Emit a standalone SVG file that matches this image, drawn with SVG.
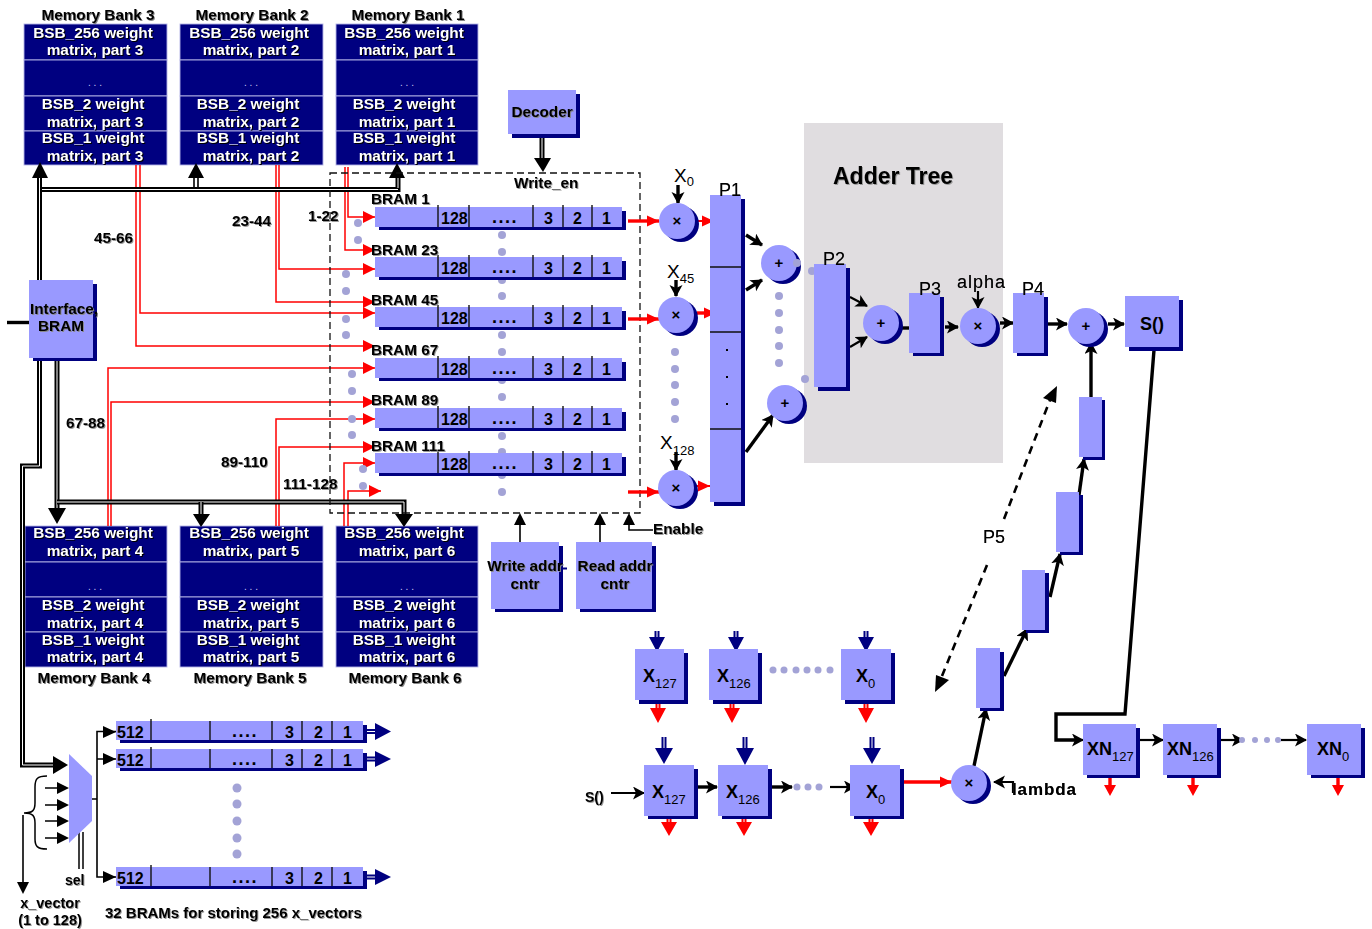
<svg xmlns="http://www.w3.org/2000/svg" width="1372" height="929" viewBox="0 0 1372 929">
<style>
text{font-family:"Liberation Sans",Arial,sans-serif;fill:#000}
.m{font-size:15.300px;font-weight:bold;text-anchor:middle;filter:drop-shadow(1px 1px .5px #888)}
.l{font-size:15.300px;font-weight:bold;filter:drop-shadow(1px 1px .5px #999)}
.w{font-size:15.400px;font-weight:bold;text-anchor:middle;fill:#fff;filter:drop-shadow(1px 1px 0 #000)}
.d{font-size:10px;text-anchor:middle;fill:#c8c8f0}
.n{font-size:16px;font-weight:bold}
.dots{font-size:18px;font-weight:bold;text-anchor:middle;letter-spacing:1.500px}
.p{font-size:18px;filter:drop-shadow(.5px .5px .3px #666)}
.x{font-size:18px;font-weight:bold}
.s{font-size:13px;font-weight:normal}
.o{font-size:15px;font-weight:bold;text-anchor:middle}
.bank{fill:#000080;stroke:#b4b4e6;stroke-width:.9}
.b{fill:#9999ff}
.sh{fill:#000080}
.sep{stroke:#111;stroke-width:1.4;fill:none}
.g{fill:#a3a3d6}
.k{stroke:#000;fill:none;stroke-width:2.2}
.k3{stroke:#000;fill:none;stroke-width:3.4}
.r{stroke:#f00;fill:none;stroke-width:1.5}
.r3{stroke:#f00;fill:none;stroke-width:3.4}
.ko{stroke:#000;fill:none;stroke-width:5}
.ki{stroke:#fff;fill:none;stroke-width:1}
.no{stroke:#000080;fill:none;stroke-width:5}
.ro{stroke:#f00;fill:none;stroke-width:5}
.ae{marker-end:url(#bk)}
.ar{marker-end:url(#rd)}
</style>
<defs>
<marker id="bk" markerUnits="userSpaceOnUse" markerWidth="15" markerHeight="14" refX="11" refY="6.500" orient="auto"><path d="M0,0L12,6.500L0,13L3,6.500z" fill="#000"/></marker>
<marker id="rd" markerUnits="userSpaceOnUse" markerWidth="14" markerHeight="14" refX="12" refY="6" orient="auto"><path d="M0,.5L12,6L0,11.5z" fill="#f00"/></marker>
<marker id="tk" markerUnits="userSpaceOnUse" markerWidth="18" markerHeight="18" refX="0" refY="8" orient="auto"><path d="M0,0L15,8L0,16z" fill="#000"/></marker>
</defs>
<rect width="1372" height="929" fill="#fff"/>
<rect id="adder-tree" x="804" y="123" width="199" height="340" fill="#e0dde0"/>

<g id="bank3"><rect class="bank" x="24" y="24" width="143" height="36"/><rect class="bank" x="24" y="60" width="143" height="36"/><rect class="bank" x="24" y="96" width="143" height="35"/><rect class="bank" x="24" y="131" width="143" height="34"/>
<text class="m" x="98" y="20">Memory Bank 3</text><text class="w" x="93" y="38">BSB_256 weight</text><text class="w" x="95" y="55">matrix, part 3</text><text class="d" x="95" y="86">. . .</text><text class="w" x="93" y="109">BSB_2 weight</text><text class="w" x="95" y="127">matrix, part 3</text><text class="w" x="93" y="143">BSB_1 weight</text><text class="w" x="95" y="161">matrix, part 3</text></g>
<g id="bank2"><rect class="bank" x="180" y="24" width="143" height="36"/><rect class="bank" x="180" y="60" width="143" height="36"/><rect class="bank" x="180" y="96" width="143" height="35"/><rect class="bank" x="180" y="131" width="143" height="34"/>
<text class="m" x="252" y="20">Memory Bank 2</text><text class="w" x="249" y="38">BSB_256 weight</text><text class="w" x="251" y="55">matrix, part 2</text><text class="d" x="251" y="86">. . .</text><text class="w" x="248" y="109">BSB_2 weight</text><text class="w" x="251" y="127">matrix, part 2</text><text class="w" x="248" y="143">BSB_1 weight</text><text class="w" x="251" y="161">matrix, part 2</text></g>
<g id="bank1"><rect class="bank" x="336" y="24" width="142" height="36"/><rect class="bank" x="336" y="60" width="142" height="36"/><rect class="bank" x="336" y="96" width="142" height="35"/><rect class="bank" x="336" y="131" width="142" height="34"/>
<text class="m" x="408" y="20">Memory Bank 1</text><text class="w" x="404" y="38">BSB_256 weight</text><text class="w" x="407" y="55">matrix, part 1</text><text class="d" x="407" y="86">. . .</text><text class="w" x="404" y="109">BSB_2 weight</text><text class="w" x="407" y="127">matrix, part 1</text><text class="w" x="404" y="143">BSB_1 weight</text><text class="w" x="407" y="161">matrix, part 1</text></g>
<g id="bank4"><rect class="bank" x="25" y="526" width="142" height="36"/><rect class="bank" x="25" y="562" width="142" height="35"/><rect class="bank" x="25" y="597" width="142" height="35"/><rect class="bank" x="25" y="632" width="142" height="35"/>
<text class="m" x="94" y="683">Memory Bank 4</text><text class="w" x="93" y="538">BSB_256 weight</text><text class="w" x="95" y="556">matrix, part 4</text><text class="d" x="95" y="590">. . .</text><text class="w" x="93" y="610">BSB_2 weight</text><text class="w" x="95" y="628">matrix, part 4</text><text class="w" x="93" y="645">BSB_1 weight</text><text class="w" x="95" y="662">matrix, part 4</text></g>
<g id="bank5"><rect class="bank" x="180" y="526" width="143" height="36"/><rect class="bank" x="180" y="562" width="143" height="35"/><rect class="bank" x="180" y="597" width="143" height="35"/><rect class="bank" x="180" y="632" width="143" height="35"/>
<text class="m" x="250" y="683">Memory Bank 5</text><text class="w" x="249" y="538">BSB_256 weight</text><text class="w" x="251" y="556">matrix, part 5</text><text class="d" x="251" y="590">. . .</text><text class="w" x="248" y="610">BSB_2 weight</text><text class="w" x="251" y="628">matrix, part 5</text><text class="w" x="248" y="645">BSB_1 weight</text><text class="w" x="251" y="662">matrix, part 5</text></g>
<g id="bank6"><rect class="bank" x="336" y="526" width="142" height="36"/><rect class="bank" x="336" y="562" width="142" height="35"/><rect class="bank" x="336" y="597" width="142" height="35"/><rect class="bank" x="336" y="632" width="142" height="35"/>
<text class="m" x="405" y="683">Memory Bank 6</text><text class="w" x="404" y="538">BSB_256 weight</text><text class="w" x="407" y="556">matrix, part 6</text><text class="d" x="407" y="590">. . .</text><text class="w" x="404" y="610">BSB_2 weight</text><text class="w" x="407" y="628">matrix, part 6</text><text class="w" x="404" y="645">BSB_1 weight</text><text class="w" x="407" y="662">matrix, part 6</text></g>

<g id="connectors">
<path class="r" d="M136,165V346H375M140,165V313H375"/>
<path class="r" d="M276,165V302H375M279,165V269H375"/>
<path class="r" d="M345,167V250H375M348,167V217H375"/>
<path class="r" d="M108,526V368H375M111,526V402H375"/>
<path class="r" d="M276,526V419H375M279,526V447H375"/>
<path class="r" d="M344,526V463H375M348,526V491H381"/>
<g fill="#f00"><path d="M363,211L375,217L363,223zM363,244L375,250L363,256zM363,263L375,269L363,275zM363,296L375,302L363,308zM363,307L375,313L363,319zM363,340L375,346L363,352zM363,362L375,368L363,374zM363,396L375,402L363,408zM363,413L375,419L363,425zM363,441L375,447L363,453zM363,457L375,463L363,469zM369,485L381,491L369,497z"/></g>
<path class="ko" d="M39.500,280V189.500H398V178"/>
<path class="ki" d="M39.500,280V189.500H398"/>
<path class="ko" d="M39.500,280V178"/>
<path class="ki" d="M39.500,280V178"/>
<path d="M40,162L48,178H32zM196,163L204,178H188zM397,163L405,178H389z"/>
<path class="k" style="stroke-width:1.600" d="M194,178V188M198,178V188"/>
<path class="ki" d="M398,188V178"/>
<path class="ko" d="M39.500,358V466H22.500V765H54"/>
<path class="ki" d="M39.500,358V466H22.500V765H54"/>
<path d="M53,756L68,765L53,774z"/>
<path class="ko" d="M57,361V508"/><path class="ki" d="M57,361V508"/>
<path class="ko" d="M57,502H404V514"/><path class="ki" d="M57,502H404V514"/>
<path class="ko" d="M201,502V514"/><path class="ki" d="M201,502V514"/>
<path d="M48,508H66L57,524zM193,514H210L201,527zM395,514H413L404,527z"/>
<path class="k3" d="M7,322.500H32"/>
<path class="sep" stroke-dasharray="7 4" style="stroke-width:1.300" d="M330,173H640V513H330z"/>
<path class="ko" d="M542,138V158"/><path class="ki" d="M542,138V158"/>
<path d="M534,158H551L543,172z"/>
<path class="k" style="stroke-width:1.600" d="M520,542V525M600,542V525M629,525V530H653"/>
<path d="M514,525L520,513L526,525zM594,525L600,513L606,525zM623,525L629,513L635,525z"/>
<path d="M559,568.500H567" stroke="#000080" stroke-width="2" fill="none"/>
<path class="k3 ae" d="M678,185V203"/><path class="k3 ae" d="M676,280V296"/><path class="k3 ae" d="M676,452V470"/>
<path class="r3 ar" d="M628,221H659"/><path class="r3 ar" d="M628,319H659"/><path class="r3 ar" d="M628,492H659"/>
<path class="r3 ar" style="stroke-width:2" d="M697,221H714"/><path class="r3 ar" d="M697,313H716"/><path class="r3 ar" style="stroke-width:2" d="M693,486H710"/>
<path class="k3 ae" d="M746,235L762,245"/><path class="k3 ae" d="M746,290L762,280"/><path class="k3 ae" d="M746,452L773,415"/>
<path class="k ae" d="M850,297L867,306"/><path class="k ae" d="M850,347L867,337"/>
<path class="k3" d="M898,328H909"/><path class="k3 ae" d="M945,327H958"/><path class="k ae" d="M978,291V308"/><path class="k3 ae" d="M1000,323H1013"/><path class="k3 ae" d="M1048,324H1067"/><path class="k3 ae" d="M1108,324H1124"/>
<path class="k3 ae" d="M974,766L986,709"/><path class="k3 ae" d="M1004,676L1027,629"/><path class="k3 ae" d="M1050,597L1060,554"/><path class="k3 ae" d="M1079,495L1084,459"/><path class="k3 ae" d="M1091,400V343"/>
<path class="k" stroke-dasharray="8 6" style="stroke-width:2.600" d="M1004,519L1050,400"/><path d="M1057,386L1056,403L1043,398z"/>
<path class="k" stroke-dasharray="8 6" style="stroke-width:2.600" d="M987,565L942,676"/><path d="M935,692L936,675L949,680z"/>
<path class="k3" d="M1154,350L1125,714H1056V740H1075"/><path class="k ae" d="M1070,740H1083"/>
<path class="k ae" d="M1137,740H1163"/><path class="k ae" d="M1218,740H1243"/><path class="k ae" d="M1281,740H1306"/>
<path class="r3" d="M1110,773V786M1193,773V786M1338,773V786"/><path d="M1104,785H1116L1110,796zM1187,785H1199L1193,796zM1332,785H1344L1338,796z" fill="#f00"/>
<path class="no" d="M657,631V640"/><path class="ki" d="M657,631V640"/><path class="no" d="M736,631V640"/><path class="ki" d="M736,631V640"/><path class="no" d="M866,631V640"/><path class="ki" d="M866,631V640"/>
<path d="M649,637H665L657,652zM728,637H744L736,652zM858,637H874L866,652z" fill="#000080"/>
<path class="ro" d="M658,703V710"/><path class="ki" d="M658,703V710"/><path class="ro" d="M732,703V710"/><path class="ki" d="M732,703V710"/><path class="ro" d="M866,703V710"/><path class="ki" d="M866,703V710"/>
<path d="M650,708H666L658,723zM724,708H740L732,723zM858,708H874L866,723z" fill="#f00"/>
<path class="no" d="M664,737V749"/><path class="ki" d="M664,737V749"/><path class="no" d="M745,737V749"/><path class="ki" d="M745,737V749"/><path class="no" d="M872,737V749"/><path class="ki" d="M872,737V749"/>
<path d="M655,748H673L664,764zM736,748H754L745,765zM863,748H881L872,764z" fill="#000080"/>
<path class="ro" d="M669,815V824"/><path class="ki" d="M669,815V824"/><path class="ro" d="M744,815V824"/><path class="ki" d="M744,815V824"/><path class="ro" d="M871,815V824"/><path class="ki" d="M871,815V824"/>
<path d="M661,822H677L669,836zM736,822H752L744,836zM863,822H879L871,836z" fill="#f00"/>
<path class="k ae" d="M611,793H644"/><path class="k3 ae" d="M693,787H717"/><path class="k3 ae" d="M768,787H792"/><path class="k ae" d="M830,787H855"/>
<path class="r3 ar" d="M900,782H952"/>
<path class="k ae" d="M1013,793V782H994"/>
<path class="k" style="stroke-width:1.600" d="M92,799H97M116,731.500H97V877H116M97,759H116"/>
<path d="M103,726L116,732L103,738zM103,753L116,759L103,765zM103,871L116,877L103,883z"/>
<path class="k" style="stroke-width:1.600" d="M45,788H58M45,805H58M45,821H58M45,838H58"/>
<path d="M57,782L69,788L57,794zM57,799L69,805L57,811zM57,815L69,821L57,827zM57,832L69,838L57,844z"/>
<path class="k" style="stroke-width:1.500" d="M47,776C37,776 35,779 35,787V803C35,810 33,813 24,813C33,813 35,816 35,823V839C35,846 37,849 47,849"/>
<path class="k" style="stroke-width:1.600" d="M23,815V884"/><path d="M17,882H29L23,894z"/>
<path class="k" style="stroke-width:1.500" d="M79,832V869M83,832V869"/>
<path stroke="#000080" stroke-width="5" fill="none" d="M366,731.500H376M366,759H376M366,877H376"/><path class="ki" d="M366,731.500H376M366,759H376M366,877H376"/>
<path d="M375,723L391,731.500L375,740zM375,751L391,759L375,767zM375,869L391,877L375,885z" fill="#000080"/>
</g>

<g id="dots" class="g">
<circle cx="358" cy="223" r="4"/><circle cx="358" cy="240" r="4"/><circle cx="346" cy="274" r="4"/><circle cx="346" cy="291" r="4"/><circle cx="346" cy="319" r="4"/><circle cx="346" cy="335" r="4"/><circle cx="352" cy="374" r="4"/><circle cx="352" cy="391" r="4"/><circle cx="352" cy="419" r="4"/><circle cx="352" cy="435" r="4"/><circle cx="363" cy="469" r="4"/><circle cx="363" cy="486" r="4"/>
<circle cx="502" cy="235" r="4"/><circle cx="502" cy="252" r="4"/><circle cx="502" cy="280" r="4"/><circle cx="502" cy="296" r="4"/><circle cx="502" cy="335" r="4"/><circle cx="502" cy="352" r="4"/><circle cx="502" cy="380" r="4"/><circle cx="502" cy="397" r="4"/><circle cx="502" cy="436" r="4"/><circle cx="502" cy="452" r="4"/><circle cx="502" cy="475" r="4"/><circle cx="502" cy="492" r="4"/>
<circle cx="675" cy="352" r="4"/><circle cx="675" cy="369" r="4"/><circle cx="675" cy="385" r="4"/><circle cx="675" cy="402" r="4"/><circle cx="675" cy="419" r="4"/>
<circle cx="779" cy="296" r="4"/><circle cx="779" cy="313" r="4"/><circle cx="779" cy="330" r="4"/><circle cx="779" cy="346" r="4"/><circle cx="779" cy="363" r="4"/><circle cx="812" cy="271" r="4"/><circle cx="805" cy="379" r="4"/>
<circle cx="773" cy="670" r="3.500"/><circle cx="784" cy="670" r="3.500"/><circle cx="796" cy="670" r="3.500"/><circle cx="807" cy="670" r="3.500"/><circle cx="818" cy="670" r="3.500"/><circle cx="830" cy="670" r="3.500"/>
<circle cx="797" cy="787" r="3.500"/><circle cx="808" cy="787" r="3.500"/><circle cx="819" cy="787" r="3.500"/>
<circle cx="1242" cy="740" r="3"/><circle cx="1255" cy="740" r="3"/><circle cx="1267" cy="740" r="3"/><circle cx="1278" cy="740" r="3"/>
<circle cx="237" cy="788" r="4.500"/><circle cx="237" cy="804" r="4.500"/><circle cx="237" cy="821" r="4.500"/><circle cx="237" cy="838" r="4.500"/><circle cx="237" cy="854" r="4.500"/>
</g>

<g id="interface-bram"><rect class="sh" x="33" y="284" width="64" height="77"/><rect class="b" x="29" y="280" width="64" height="78"/><text class="m" x="64" y="314">Interface,</text><text class="m" x="61" y="331">BRAM</text></g>
<g id="decoder"><rect class="sh" x="512" y="94" width="68" height="44"/><rect class="b" x="508" y="90" width="68" height="44"/><text class="m" x="542" y="117">Decoder</text></g>
<text class="l" x="514" y="188">Write_en</text>
<g id="write-addr"><rect class="sh" x="495" y="546" width="68" height="66"/><rect class="b" x="491" y="542" width="68" height="67"/><text class="m" x="525" y="571">Write addr</text><text class="m" x="525" y="589">cntr</text></g>
<g id="read-addr"><rect class="sh" x="580" y="546" width="76" height="66"/><rect class="b" x="576" y="542" width="76" height="67"/><text class="m" x="615" y="571">Read addr</text><text class="m" x="615" y="589">cntr</text></g>
<text class="l" x="653" y="534">Enable</text>

<g id="bram1"><rect class="sh" x="379" y="211" width="247" height="19"/><rect class="b" x="375" y="207" width="247" height="20"/><path class="sep" d="M438,205V227M469,205V227M533,205V227M563,205V227M592,205V227"/><text class="n" x="441" y="224">128</text><text class="dots" x="505" y="223">....</text><text class="n" x="544" y="224">3</text><text class="n" x="573" y="224">2</text><text class="n" x="602" y="224">1</text><text class="l" x="371" y="204">BRAM 1</text></g>
<g id="bram23"><rect class="sh" x="379" y="261" width="247" height="19"/><rect class="b" x="375" y="257" width="247" height="20"/><path class="sep" d="M438,255V277M469,255V277M533,255V277M563,255V277M592,255V277"/><text class="n" x="441" y="274">128</text><text class="dots" x="505" y="273">....</text><text class="n" x="544" y="274">3</text><text class="n" x="573" y="274">2</text><text class="n" x="602" y="274">1</text><text class="l" x="371" y="255">BRAM 23</text></g>
<g id="bram45"><rect class="sh" x="379" y="311" width="247" height="19"/><rect class="b" x="375" y="307" width="247" height="20"/><path class="sep" d="M438,305V327M469,305V327M533,305V327M563,305V327M592,305V327"/><text class="n" x="441" y="324">128</text><text class="dots" x="505" y="323">....</text><text class="n" x="544" y="324">3</text><text class="n" x="573" y="324">2</text><text class="n" x="602" y="324">1</text><text class="l" x="371" y="305">BRAM 45</text></g>
<g id="bram67"><rect class="sh" x="379" y="362" width="247" height="19"/><rect class="b" x="375" y="358" width="247" height="20"/><path class="sep" d="M438,356V378M469,356V378M533,356V378M563,356V378M592,356V378"/><text class="n" x="441" y="375">128</text><text class="dots" x="505" y="374">....</text><text class="n" x="544" y="375">3</text><text class="n" x="573" y="375">2</text><text class="n" x="602" y="375">1</text><text class="l" x="371" y="355">BRAM 67</text></g>
<g id="bram89"><rect class="sh" x="379" y="412" width="247" height="19"/><rect class="b" x="375" y="408" width="247" height="20"/><path class="sep" d="M438,406V428M469,406V428M533,406V428M563,406V428M592,406V428"/><text class="n" x="441" y="425">128</text><text class="dots" x="505" y="424">....</text><text class="n" x="544" y="425">3</text><text class="n" x="573" y="425">2</text><text class="n" x="602" y="425">1</text><text class="l" x="371" y="405">BRAM 89</text></g>
<g id="bram111"><rect class="sh" x="379" y="457" width="247" height="19"/><rect class="b" x="375" y="453" width="247" height="20"/><path class="sep" d="M438,451V473M469,451V473M533,451V473M563,451V473M592,451V473"/><text class="n" x="441" y="470">128</text><text class="dots" x="505" y="469">....</text><text class="n" x="544" y="470">3</text><text class="n" x="573" y="470">2</text><text class="n" x="602" y="470">1</text><text class="l" x="371" y="451">BRAM 111</text></g>

<g id="range-labels"><text class="l" x="94" y="243">45-66</text><text class="l" x="232" y="226">23-44</text><text class="l" x="308" y="221">1-22</text><text class="l" x="66" y="428">67-88</text><text class="l" x="221" y="467">89-110</text><text class="l" x="283" y="489">111-128</text></g>

<g id="mul-x0"><circle class="sh" cx="681" cy="224" r="18"/><circle class="b" cx="677" cy="221" r="18"/><text class="o" x="677" y="226">×</text><text class="x" x="674" y="182" style="font-size:19px;font-weight:normal">X<tspan class="s" dy="4">0</tspan></text></g>
<g id="mul-x45"><circle class="sh" cx="680" cy="318" r="18"/><circle class="b" cx="676" cy="315" r="18"/><text class="o" x="676" y="320">×</text><text class="x" x="667" y="278" style="font-size:19px;font-weight:normal">X<tspan class="s" dy="5">45</tspan></text></g>
<g id="mul-x128"><circle class="sh" cx="680" cy="491" r="18"/><circle class="b" cx="676" cy="488" r="18"/><text class="o" x="676" y="493">×</text><text class="x" x="660" y="449" style="font-size:19px;font-weight:normal">X<tspan class="s" dy="6">128</tspan></text></g>

<g id="p1"><rect class="sh" x="714" y="199" width="31" height="307"/><rect class="b" x="710" y="195" width="31" height="307"/><path class="sep" d="M710,267H741M710,332H741M710,429H741"/><rect x="726" y="349" width="2" height="2"/><rect x="726" y="376" width="2" height="2"/><rect x="726" y="403" width="2" height="2"/><text class="p" x="719" y="196">P1</text></g>
<text id="adder-title" x="833" y="184" style="font-size:23px;font-weight:bold;filter:drop-shadow(1px 1px .5px #999)">Adder Tree</text>
<g id="add1"><circle class="sh" cx="783" cy="266" r="18"/><circle class="b" cx="779" cy="263" r="18"/><text class="o" x="779" y="268">+</text></g>
<g id="add2"><circle class="sh" cx="789" cy="406" r="18"/><circle class="b" cx="785" cy="403" r="18"/><text class="o" x="785" y="408">+</text></g>
<circle class="g" cx="797" cy="263" r="4"/>
<g id="p2"><rect class="sh" x="818" y="268" width="32" height="123"/><rect class="b" x="814" y="264" width="32" height="123"/><text class="p" x="823" y="265">P2</text></g>
<g id="add3"><circle class="sh" cx="885" cy="326" r="18"/><circle class="b" cx="881" cy="323" r="18"/><text class="o" x="881" y="328">+</text></g>
<g id="p3"><rect class="sh" x="913" y="297" width="31" height="59"/><rect class="b" x="909" y="293" width="31" height="60"/><text class="p" x="919" y="295">P3</text></g>
<g id="mul-alpha"><circle class="sh" cx="982" cy="329" r="18"/><circle class="b" cx="978" cy="326" r="18"/><text class="o" x="978" y="331">×</text><text class="p" x="957" y="288" style="letter-spacing:1px">alpha</text></g>
<g id="p4"><rect class="sh" x="1017" y="297" width="31" height="59"/><rect class="b" x="1013" y="293" width="31" height="60"/><text class="p" x="1022" y="295">P4</text></g>
<g id="add4"><circle class="sh" cx="1090" cy="329" r="18"/><circle class="b" cx="1086" cy="326" r="18"/><text class="o" x="1086" y="331">+</text></g>
<g id="s-box"><rect class="sh" x="1129" y="300" width="54" height="51"/><rect class="b" x="1125" y="296" width="54" height="51"/><text class="x" x="1140" y="330" style="font-size:18px">S()</text></g>

<g id="p5-a"><rect class="sh" x="1083" y="400" width="22" height="60"/><rect class="b" x="1079" y="397" width="23" height="60"/></g>
<g id="p5-b"><rect class="sh" x="1060" y="495" width="23" height="60"/><rect class="b" x="1056" y="492" width="23" height="60"/></g>
<g id="p5-c"><rect class="sh" x="1026" y="573" width="23" height="60"/><rect class="b" x="1022" y="570" width="23" height="60"/></g>
<g id="p5-d"><rect class="sh" x="980" y="652" width="24" height="59"/><rect class="b" x="976" y="648" width="24" height="60"/></g>
<text class="p" x="983" y="543">P5</text>

<g id="xt127"><rect class="sh" x="639" y="653" width="49" height="51"/><rect class="b" x="635" y="649" width="49" height="51"/><text class="x" x="643" y="682">X<tspan class="s" dy="6">127</tspan></text></g>
<g id="xt126"><rect class="sh" x="713" y="653" width="49" height="51"/><rect class="b" x="709" y="649" width="49" height="51"/><text class="x" x="717" y="682">X<tspan class="s" dy="6">126</tspan></text></g>
<g id="xt0"><rect class="sh" x="845" y="653" width="50" height="51"/><rect class="b" x="841" y="649" width="50" height="51"/><text class="x" x="856" y="682">X<tspan class="s" dy="6">0</tspan></text></g>
<g id="xb127"><rect class="sh" x="648" y="769" width="50" height="50"/><rect class="b" x="644" y="765" width="50" height="51"/><text class="x" x="652" y="798">X<tspan class="s" dy="6">127</tspan></text></g>
<g id="xb126"><rect class="sh" x="722" y="769" width="50" height="50"/><rect class="b" x="718" y="765" width="50" height="51"/><text class="x" x="726" y="798">X<tspan class="s" dy="6">126</tspan></text></g>
<g id="xb0"><rect class="sh" x="854" y="769" width="50" height="50"/><rect class="b" x="850" y="765" width="50" height="51"/><text class="x" x="866" y="798">X<tspan class="s" dy="6">0</tspan></text></g>
<text class="l" x="585" y="802" style="font-size:14px">S()</text>
<g id="mul-lambda"><circle class="sh" cx="973" cy="786" r="18"/><circle class="b" cx="969" cy="783" r="18"/><text class="o" x="969" y="788">×</text><text class="p" x="1012" y="795" style="font-weight:bold;letter-spacing:.9px;font-size:17px">lambda</text></g>

<g id="xn127"><rect class="sh" x="1087" y="728" width="53" height="50"/><rect class="b" x="1083" y="724" width="53" height="51"/><text class="x" x="1087" y="755">XN<tspan class="s" dy="6">127</tspan></text></g>
<g id="xn126"><rect class="sh" x="1167" y="728" width="54" height="50"/><rect class="b" x="1163" y="724" width="54" height="51"/><text class="x" x="1167" y="755">XN<tspan class="s" dy="6">126</tspan></text></g>
<g id="xn0"><rect class="sh" x="1311" y="728" width="54" height="50"/><rect class="b" x="1307" y="724" width="54" height="51"/><text class="x" x="1317" y="755">XN<tspan class="s" dy="6">0</tspan></text></g>

<g id="mux"><path class="b" d="M69,754L92,776V821L69,843z"/><text class="l" x="65" y="885" style="font-size:14px">sel</text></g>
<text class="o" x="50" y="908" style="font-size:14.500px;filter:drop-shadow(1px 1px .5px #999)">x_vector</text>
<text class="o" x="50" y="925" style="font-size:14.500px;filter:drop-shadow(1px 1px .5px #999)">(1 to 128)</text>

<g id="xbram1"><rect class="sh" x="120" y="725" width="247" height="18"/><rect class="b" x="116" y="721" width="247" height="19"/><path class="sep" d="M151,719V740M210,721V740M272,721V740M302,721V740M332,721V740"/><text class="n" x="117" y="738">512</text><text class="dots" x="245" y="737">....</text><text class="n" x="285" y="738">3</text><text class="n" x="314" y="738">2</text><text class="n" x="343" y="738">1</text></g>
<g id="xbram2"><rect class="sh" x="120" y="753" width="247" height="18"/><rect class="b" x="116" y="749" width="247" height="19"/><path class="sep" d="M151,747V768M210,749V768M272,749V768M302,749V768M332,749V768"/><text class="n" x="117" y="766">512</text><text class="dots" x="245" y="765">....</text><text class="n" x="285" y="766">3</text><text class="n" x="314" y="766">2</text><text class="n" x="343" y="766">1</text></g>
<g id="xbram32"><rect class="sh" x="120" y="871" width="247" height="18"/><rect class="b" x="116" y="867" width="247" height="19"/><path class="sep" d="M151,865V886M210,867V886M272,867V886M302,867V886M332,867V886"/><text class="n" x="117" y="884">512</text><text class="dots" x="245" y="883">....</text><text class="n" x="285" y="884">3</text><text class="n" x="314" y="884">2</text><text class="n" x="343" y="884">1</text></g>
<text class="l" x="105" y="918" style="font-size:15px">32 BRAMs for storing 256 x_vectors</text>
</svg>
